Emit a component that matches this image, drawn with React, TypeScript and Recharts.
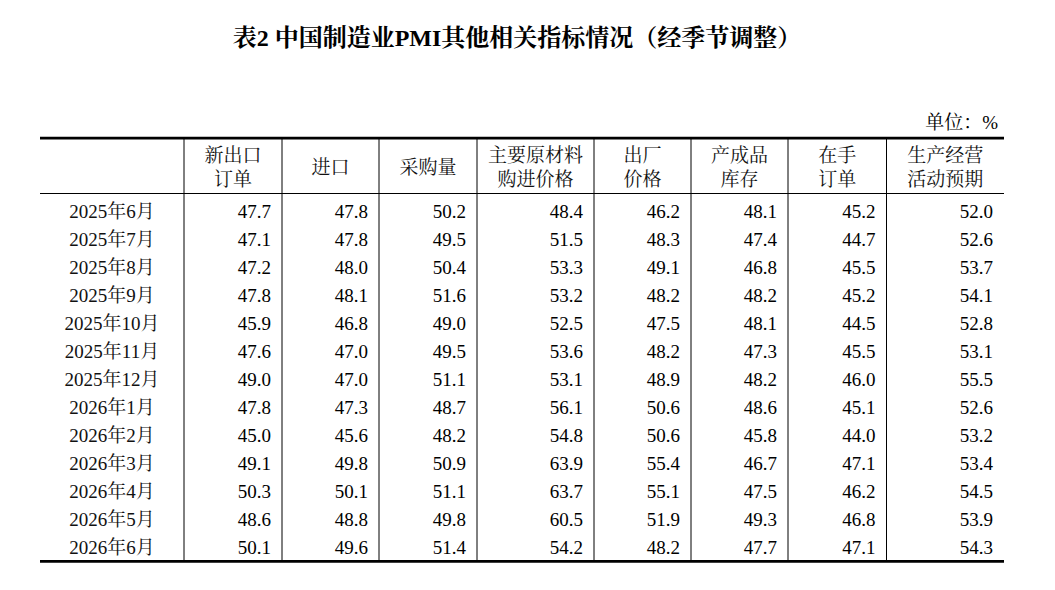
import { ReferenceLine, Scatter, ScatterChart, XAxis, YAxis } from "recharts";

const months = [
  "2025年6月", "2025年7月", "2025年8月", "2025年9月", "2025年10月", "2025年11月", "2025年12月",
  "2026年1月", "2026年2月", "2026年3月", "2026年4月", "2026年5月", "2026年6月",
];

const headers = [
  ["新出口", "订单"],
  ["进口"],
  ["采购量"],
  ["主要原材料", "购进价格"],
  ["出厂", "价格"],
  ["产成品", "库存"],
  ["在手", "订单"],
  ["生产经营", "活动预期"],
];

const newExportOrders = [47.7, 47.1, 47.2, 47.8, 45.9, 47.6, 49.0, 47.8, 45.0, 49.1, 50.3, 48.6, 50.1];
const imports = [47.8, 47.8, 48.0, 48.1, 46.8, 47.0, 47.0, 47.3, 45.6, 49.8, 50.1, 48.8, 49.6];
const purchases = [50.2, 49.5, 50.4, 51.6, 49.0, 49.5, 51.1, 48.7, 48.2, 50.9, 51.1, 49.8, 51.4];
const inputPrices = [48.4, 51.5, 53.3, 53.2, 52.5, 53.6, 53.1, 56.1, 54.8, 63.9, 63.7, 60.5, 54.2];
const outputPrices = [46.2, 48.3, 49.1, 48.2, 47.5, 48.2, 48.9, 50.6, 50.6, 55.4, 55.1, 51.9, 48.2];
const finishedStocks = [48.1, 47.4, 46.8, 48.2, 48.1, 47.3, 48.2, 48.6, 45.8, 46.7, 47.5, 49.3, 47.7];
const backlogOrders = [45.2, 44.7, 45.5, 45.2, 44.5, 45.5, 46.0, 45.1, 44.0, 47.1, 46.2, 46.8, 47.1];
const expectations = [52.0, 52.6, 53.7, 54.1, 52.8, 53.1, 55.5, 52.6, 53.2, 53.4, 54.5, 53.9, 54.3];

const series = [
  newExportOrders, imports, purchases, inputPrices,
  outputPrices, finishedStocks, backlogOrders, expectations,
];

// layout (px)
const W = 1055;
const H = 590;
const LABEL_W = 144;
const COL_W = [98, 97, 98, 117, 97, 97, 98.5, 117.5];
const TOTAL_W = COL_W.reduce((s, w) => s + w, 0);
const ROW_H = 28;
const BODY_TOP = 197; // top of first row band
const TABLE_TOP = 137;
const CELL_PAD = 11;
const FONT = '"Liberation Serif", "Times New Roman", "Noto Serif CJK SC", "Noto Sans CJK SC", serif';

const colLeft = COL_W.map((_, i) => COL_W.slice(0, i).reduce((s, w) => s + w, 0));
const toRow = (px: number) => (px - BODY_TOP) / ROW_H;
const Y_MIN = toRow(TABLE_TOP);
const Y_MAX = months.length;

const headerData = headers.map((lines, j) => ({
  x: colLeft[j] + COL_W[j] / 2,
  y: toRow(167),
  lines,
}));

const cellData = series.map((vals, j) =>
  vals.map((v, i) => ({ x: colLeft[j] + COL_W[j] - CELL_PAD, y: i + 0.5, value: v }))
);

const CellText = (props: any) => {
  const { cx, cy, payload } = props;
  return (
    <text x={cx} y={cy} dy="0.35em" textAnchor="end" fontSize={19} fill="#000">
      {payload.value.toFixed(1)}
    </text>
  );
};

const HeaderText = (props: any) => {
  const { cx, cy, payload } = props;
  const lines: string[] = payload.lines;
  return (
    <g>
      {lines.map((t, k) => (
        <text
          key={k}
          x={cx}
          y={cy + (k - (lines.length - 1) / 2) * 24}
          dy="0.35em"
          textAnchor="middle"
          fontSize={19}
          fill="#111"
        >
          {t}
        </text>
      ))}
    </g>
  );
};

const MonthTick = (props: any) => {
  const { x, y, payload } = props;
  return (
    <text x={x - LABEL_W / 2} y={y} dy="0.35em" textAnchor="middle" fontSize={19} fill="#111">
      {months[Math.floor(payload.value)]}
    </text>
  );
};

const hLine = (px: number, width: number) => (
  <ReferenceLine
    key={`h${px}`}
    segment={[{ x: -LABEL_W, y: toRow(px) }, { x: TOTAL_W, y: toRow(px) }]}
    stroke="#000"
    strokeWidth={width}
    ifOverflow="visible"
  />
);

export default function App() {
  return (
    <div
      style={{
        position: "absolute",
        left: 0,
        top: 0,
        width: W,
        height: H,
        background: "#fff",
        fontFamily: FONT,
        color: "#000",
      }}
    >
      <div
        style={{
          position: "absolute",
          left: 0,
          top: 26,
          width: 1034,
          textAlign: "center",
          fontSize: 24,
          lineHeight: "24px",
          fontWeight: "bold",
        }}
      >
        表2 中国制造业PMI其他相关指标情况（经季节调整）
      </div>
      <div
        style={{
          position: "absolute",
          right: 57,
          top: 113,
          fontSize: 19,
          lineHeight: "19px",
        }}
      >
        单位：%
      </div>
      <ScatterChart
        width={W}
        height={H}
        margin={{ top: TABLE_TOP, right: W - 40 - LABEL_W - TOTAL_W, bottom: H - BODY_TOP - ROW_H * months.length, left: 40 }}
      >
        <XAxis type="number" dataKey="x" domain={[0, TOTAL_W]} hide />
        <YAxis
          type="number"
          dataKey="y"
          domain={[Y_MIN, Y_MAX]}
          reversed
          allowDataOverflow
          width={LABEL_W}
          ticks={months.map((_, i) => i + 0.5)}
          interval={0}
          tick={<MonthTick />}
          tickSize={0}
          tickMargin={0}
          axisLine={false}
          tickLine={false}
        />
        {hLine(138.1, 2.7)}
        {hLine(193.5, 1)}
        {hLine(561.4, 2.7)}
        {colLeft.map((x) => (
          <ReferenceLine
            key={`v${x}`}
            segment={[{ x, y: toRow(137) }, { x, y: toRow(561) }]}
            stroke="#000"
            strokeWidth={1}
            ifOverflow="visible"
          />
        ))}
        <Scatter data={headerData} shape={<HeaderText />} isAnimationActive={false} />
        {cellData.map((d, j) => (
          <Scatter key={j} data={d} shape={<CellText />} isAnimationActive={false} />
        ))}
      </ScatterChart>
    </div>
  );
}
